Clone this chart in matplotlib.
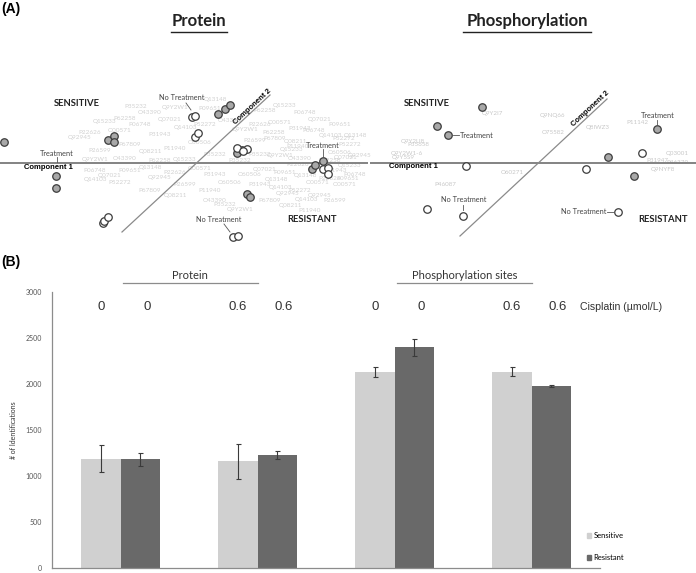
import matplotlib.pyplot as plt
from matplotlib.lines import Line2D
from matplotlib.patches import Patch

W, H = 696, 573

# ---- panel A : protein score plot (component 1 horizontal, component 2 diagonal)
prot_grey_x = [-19.2, -14.0, -14.0, -8.8, -8.2, -8.2, 2.2, 2.9, 3.4, 11.6, 11.9, 12.7, 5.1, 5.4, 4.1, 4.6]
prot_grey_y = [2.1, -1.3, -2.5, 2.3, 2.7, 2.1, 4.9, 5.4, 5.8, -0.6, -0.2, 0.2, -3.1, -3.4, 1.0, 1.3]
prot_white_x = [-0.4, -0.1, -0.1, 0.2, 4.1, 5.1, 4.7, -9.3, -9.2, -8.8, 12.7, 13.2, 13.2, 3.7, 4.2]
prot_white_y = [4.6, 4.7, 2.6, 3.0, 1.5, 1.4, 1.2, -6.0, -5.8, -5.4, -0.6, -0.5, -1.1, -7.4, -7.3]

# protein id labels in the background
cloud_x = [-6.0, -2.1, -4.6, -7.1, -9.1, -5.6, -2.6, 1.4, 1.9, -10.6, -7.6, -3.6, -1.1, 0.9, -11.6,
           -9.6, -6.6, -4.6, -2.1, 0.4, 1.9, -10.1, -7.1, -3.6, -1.1,
           -10.1, -8.6, -6.6, -4.6, -2.1, 0.4, 1.9, -10.1, -7.6, -3.6, -1.1, -4.6, -2.1, 1.4, 3.4, 2.9, 4.4, 1.9,
           6.9, 8.9, 10.9, 12.4, 14.4, 15.9, 6.4, 8.4, 10.4, 13.4, 15.4, 16.4, 5.9, 7.9, 9.9, 10.2, 14.4,
           6.4, 8.4, 10.4, 13.4, 15.4, 15.9, 6.9, 8.9, 10.9, 13.4, 14.9, 6.4, 8.4, 10.4, 12.4, 13.9,
           7.4, 9.4, 11.4, 5.4, 4.4, 4.9, 3.4,
           7.8, 9.6, 11.8, 15.0, 15.2, 8.0, 10.2, 12.2, 14.0, 11.0, 14.8, 9.2]
cloud_y = [5.6, 5.5, 5.1, 4.5, 4.1, 3.8, 4.3, 5.5, 6.3, 3.1, 3.3, 2.8, 3.5, 3.8, 2.5,
           1.3, 1.8, 1.1, 1.5, 2.1, 0.8, 0.3, 0.5, 0.3, 0.3,
           -0.7, -1.2, -0.7, -0.5, -0.9, -0.5, -1.2, -1.7, -1.9, -1.5, -2.2, -2.7, -3.2, -2.7, -2.0, -4.2, -4.7, -3.7,
           5.3, 5.8, 5.1, 4.3, 3.8, 2.8, 3.8, 4.1, 3.5, 2.8, 1.8, 0.8, 2.3, 2.5, 2.1, 1.6, 1.1,
           0.8, 0.8, 0.5, 0.3, -0.2, -1.2, -0.7, -0.9, -1.2, -1.5, -2.2, -2.2, -2.5, -2.7, -3.2, -3.7,
           -3.7, -4.2, -4.7, -1.2, 0.3, 3.3, 4.3,
           3.0, 1.4, 3.2, 0.6, -1.6, -1.6, -0.2, -2.0, -0.8, -3.6, 2.4, -3.0]
cloud_ids = ["P35232", "Q9Y2W1", "O43390", "P62258", "Q15233", "P06748", "Q07021", "P09651",
             "Q13148", "P22626", "O00571", "P31943", "Q14103", "P52272", "Q92945", "P26599",
             "P67809", "Q08211", "P11940", "O60506"]

# ---- panel A : phosphorylation score plot
phos_grey_x = [-5.6, -10.1, -9.0, 11.9, 7.0, 9.6]
phos_grey_y = [5.6, 3.7, 2.8, 3.4, 0.6, -1.3]
phos_white_x = [-7.2, -11.1, -7.5, 4.8, 10.4, 8.0]
phos_white_y = [-0.3, -4.6, -5.3, -0.6, 1.0, -4.9]
site_x = [-4.6, 1.5, 1.5, 6.0, 9.9, -12.5, -12.0, -13.1, -13.5, -2.6, -9.3, 11.9, 12.5, 13.9, 13.9]
site_y = [5.0, 4.8, 3.0, 3.6, 4.0, 2.1, 1.8, 1.0, 0.5, -1.0, -2.1, 0.3, -0.7, 1.0, 0.0]
site_ids = ["Q9Y2I7", "Q9NQ66", "O75582", "Q8IWZ3", "P11142", "Q9Y2U8", "P35658", "Q9Y2W1-6",
            "Q9Y5S9", "O60271", "P46087", "P31947", "Q9NYF8", "Q03001", "P46379"]

# ---- panel B : number of identifications
groups = ["Protein 0", "Protein 0.6", "Phospho 0", "Phospho 0.6"]
sensitive = [1190, 1160, 2130, 2135]
sensitive_err = [145, 193, 50, 50]
resistant = [1180, 1225, 2400, 1980]
resistant_err = [72, 45, 93, 10]
doses = ["0", "0.6", "0", "0.6"]

light = "#d0d0d0"
dark = "#696969"
calibri = "Lato"
arial = "Liberation Sans"


def box(x0, y0, x1, y1):
    return [x0 / W, 1 - y1 / H, (x1 - x0) / W, (y1 - y0) / H]


fig = plt.figure(figsize=(W / 100, H / 100), dpi=100)

fig.text(1 / W, 1 - 9 / H, "(A)", fontsize=10, fontweight="bold", family=arial, va="center")
fig.text(1 / W, 1 - 262 / H, "(B)", fontsize=10, fontweight="bold", family=arial, va="center")

for title, cx, x0, x1 in [("Protein", 199, 171, 227), ("Phosphorylation", 527, 463, 591)]:
    fig.text(cx / W, 1 - 21 / H, title, fontsize=12, fontweight="bold", family=calibri,
             ha="center", va="center", color="#222222")
    fig.add_artist(Line2D([x0 / W, x1 / W], [1 - 32 / H, 1 - 32 / H], color="#222222", lw=1.0))


def score_panel(ax, xlim, diag, c2pos):
    ax.set_xlim(*xlim)
    ax.set_ylim(-8.2, 7.8)
    ax.axis("off")
    ax.axhline(0, color="#7a7a7a", lw=1.3, zorder=2)
    ax.plot(diag[0], diag[1], color="#8a8a8a", lw=0.9, zorder=2)
    ax.text(c2pos[0], c2pos[1], "Component 2", rotation=43, fontsize=5.5, fontweight="bold",
            family=arial, ha="center", va="center", zorder=4)


def circles(ax, gx, gy, wx, wy):
    ax.plot(gx, gy, "o", ms=5.4, mfc="#a8a8a8", mec="#3c3c3c", mew=0.9, zorder=5)
    ax.plot(wx, wy, "o", ms=5.4, mfc="white", mec="#3c3c3c", mew=0.9, zorder=5)


small = dict(fontsize=5.3, family=calibri, color="#444444", zorder=6)
big = dict(fontsize=6.8, fontweight="bold", family=calibri, color="#222222", zorder=6)

# protein panel
ax1 = fig.add_axes(box(0, 85, 368, 245))
score_panel(ax1, (-19.6, 17.2), ([-7.4, 7.4], [-6.9, 6.8]), (5.6, 5.6))
for i, (x, y) in enumerate(zip(cloud_x, cloud_y)):
    ax1.text(x, y, cloud_ids[i % len(cloud_ids)], fontsize=4.6, family=calibri, color="#cccccc",
             ha="center", va="center", alpha=0.9, zorder=1)
circles(ax1, prot_grey_x, prot_grey_y, prot_white_x, prot_white_y)
ax1.text(-11.9, 6.0, "SENSITIVE", ha="center", va="center", **big)
ax1.text(11.6, -5.7, "RESISTANT", ha="center", va="center", **big)
ax1.text(-14.8, -0.45, "Component 1", fontsize=5.5, fontweight="bold", family=arial,
         ha="center", va="center", zorder=6)
ax1.text(-13.9, 0.95, "Treatment", ha="center", va="center", **small)
ax1.plot([-13.9, -13.9], [0.6, 0.1], color="#555555", lw=0.6, zorder=6)
ax1.text(-1.4, 6.5, "No Treatment", ha="center", va="center", **small)
ax1.plot([-1.0, -0.5], [6.0, 5.3], color="#555555", lw=0.6, zorder=6)
ax1.text(12.7, 1.8, "Treatment", ha="center", va="center", **small)
ax1.plot([12.7, 12.7], [1.4, 0.6], color="#555555", lw=0.6, zorder=6)
ax1.text(2.3, -5.6, "No Treatment", ha="center", va="center", **small)
ax1.plot([2.8, 3.4], [-6.1, -6.9], color="#555555", lw=0.6, zorder=6)

# phosphorylation panel
ax2 = fig.add_axes(box(370, 85, 696, 245))
score_panel(ax2, (-16.8, 15.8), ([-7.8, 6.9], [-7.3, 6.4]), (5.2, 5.4))
for x, y, s in zip(site_x, site_y, site_ids):
    ax2.text(x, y, s, fontsize=4.5, family=calibri, color="#c8c8c8",
             ha="center", va="center", zorder=1)
circles(ax2, phos_grey_x, phos_grey_y, phos_white_x, phos_white_y)
ax2.text(-11.1, 6.0, "SENSITIVE", ha="center", va="center", **big)
ax2.text(12.5, -5.7, "RESISTANT", ha="center", va="center", **big)
ax2.text(-12.5, -0.35, "Component 1", fontsize=5.5, fontweight="bold", family=arial,
         ha="center", va="center", zorder=6)
ax2.plot([-8.5, -7.9], [2.8, 2.8], color="#555555", lw=0.6, zorder=6)
ax2.text(-7.8, 2.8, "Treatment", ha="left", va="center", **small)
ax2.text(12.0, 4.7, "Treatment", ha="center", va="center", **small)
ax2.plot([11.9, 11.9], [4.3, 3.8], color="#555555", lw=0.6, zorder=6)
ax2.text(-7.4, -3.7, "No Treatment", ha="center", va="center", **small)
ax2.plot([-7.5, -7.5], [-4.2, -4.7], color="#555555", lw=0.6, zorder=6)
ax2.text(6.8, -4.9, "No Treatment", ha="right", va="center", **small)
ax2.plot([6.9, 7.6], [-4.9, -4.9], color="#555555", lw=0.6, zorder=6)

# ---- panel B bars
ax = fig.add_axes(box(52, 292, 600, 568))
xs = list(range(len(groups)))
bw = 0.285
xs_s = [x - bw / 2 for x in xs]
xs_r = [x + bw / 2 for x in xs]
ax.bar(xs_s, sensitive, bw, color=light, label="Sensitive", zorder=2)
ax.bar(xs_r, resistant, bw, color=dark, label="Resistant", zorder=2)
ekw = dict(fmt="none", ecolor="#3a3a3a", elinewidth=0.8, capsize=1.8, capthick=0.8, zorder=3)
ax.errorbar(xs_s, sensitive, yerr=sensitive_err, **ekw)
ax.errorbar(xs_r, resistant, yerr=resistant_err, **ekw)

ax.set_xlim(-0.5, 3.5)
ax.set_ylim(0, 3000)
ax.set_yticks(range(0, 3001, 500))
ax.set_xticks([])
ax.tick_params(axis="y", length=0, pad=7, labelsize=5, labelcolor="#555555")
for lab in ax.get_yticklabels():
    lab.set_family(calibri)
for s in ["top", "right"]:
    ax.spines[s].set_visible(False)
for s in ["left", "bottom"]:
    ax.spines[s].set_color("#8c8c8c")
    ax.spines[s].set_linewidth(0.9)
ax.set_ylabel("# of Identifications", fontsize=5, family=calibri, color="#333333", labelpad=6)

for xa, xb, d in zip(xs_s, xs_r, doses):
    ax.text(xa, 2840, d, fontsize=9.5, family=arial, color="#333333", ha="center", va="center")
    ax.text(xb + 0.05, 2840, d, fontsize=9.5, family=arial, color="#333333", ha="center", va="center")
ax.text(3.355, 2840, "Cisplatin (µmol/L)", fontsize=7.6, family=arial, color="#333333",
        ha="left", va="center", clip_on=False)

for label, a, b in [("Protein", 0, 1), ("Phosphorylation sites", 2, 3)]:
    ax.plot([a + 0.02, b], [3098, 3098], color="#8c8c8c", lw=0.9, clip_on=False)
    ax.text((a + b) / 2 + 0.01, 3178, label, fontsize=8, family=calibri, color="#333333",
            ha="center", va="center", clip_on=False)

handles = [Patch(color=light), Patch(color=dark)]
ax.legend(handles, ["Sensitive", "Resistant"], loc="upper left", bbox_to_anchor=(0.97, 0.14),
          frameon=False, handlelength=0.6, handleheight=0.6, handletextpad=0.3,
          labelspacing=1.9, borderaxespad=0, prop={"family": calibri, "size": 5.5})

fig.savefig("out.png", dpi=100)
